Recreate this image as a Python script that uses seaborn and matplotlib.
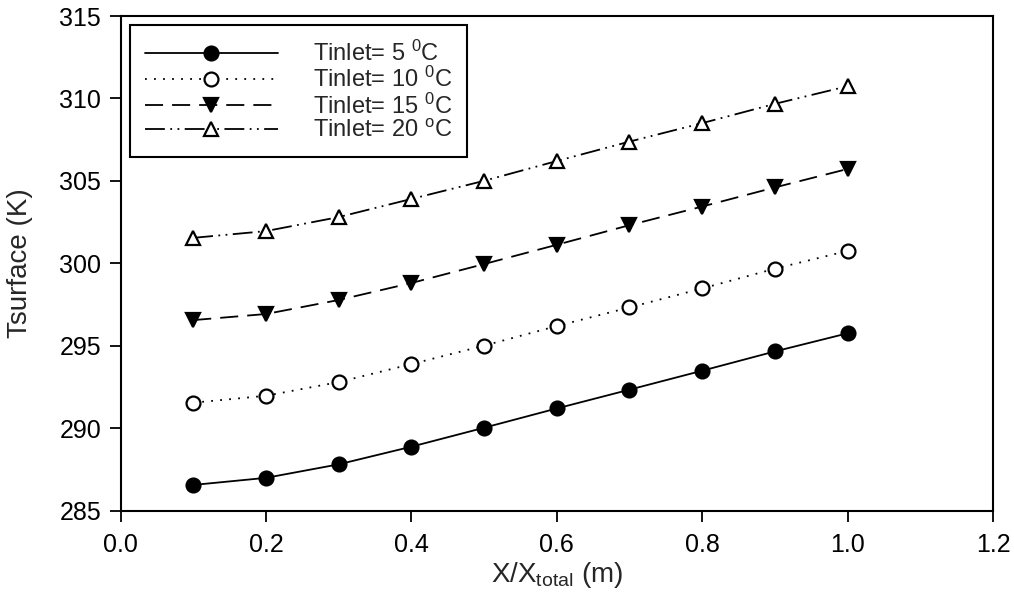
import numpy as np
import pandas as pd
import matplotlib
matplotlib.use("Agg")
import matplotlib.pyplot as plt
import seaborn as sns

# ---- data ----
x_ratio = [0.1, 0.2, 0.3, 0.4, 0.5, 0.6, 0.7, 0.8, 0.9, 1.0]
t_inlet_5 = [286.55, 286.98, 287.80, 288.87, 290.02, 291.19, 292.33, 293.48, 294.65, 295.75]
t_inlet_10 = [291.54, 291.96, 292.79, 293.88, 295.00, 296.19, 297.32, 298.47, 299.67, 300.75]
t_inlet_15 = [296.55, 296.92, 297.77, 298.80, 299.95, 301.12, 302.31, 303.44, 304.60, 305.72]
t_inlet_20 = [301.54, 301.95, 302.80, 303.90, 305.00, 306.20, 307.38, 308.50, 309.67, 310.74]
series_labels = [r"Tinlet= 5 $^{0}$C", r"Tinlet= 10 $^{0}$C",
                 r"Tinlet= 15 $^{0}$C", r"Tinlet= 20 $^{\mathrm{o}}$C"]
x_ticks = [0.0, 0.2, 0.4, 0.6, 0.8, 1.0, 1.2]
y_ticks = [285, 290, 295, 300, 305, 310, 315]

sns.set_theme(style="ticks")
plt.rcParams["font.family"] = ["Liberation Sans", "DejaVu Sans"]
plt.rcParams["mathtext.fontset"] = "custom"
plt.rcParams["mathtext.rm"] = "Liberation Sans"
plt.rcParams["mathtext.it"] = "Liberation Sans:italic"
plt.rcParams["mathtext.bf"] = "Liberation Sans:bold"

fig = plt.figure(figsize=(10.14, 5.93), dpi=100)
ax = fig.add_axes([120.5 / 1014, 1 - 510.5 / 593, (993 - 120.5) / 1014, (510.5 - 16) / 593])

styles = [
    dict(marker="o", markerfacecolor="black", linestyle="-"),
    dict(marker="o", markerfacecolor="white", linestyle=(0, (1, 4))),
    dict(marker="v", markerfacecolor="black", linestyle=(0, (10, 5))),
    dict(marker="^", markerfacecolor="white", linestyle=(0, (11, 3, 1, 3, 1, 3))),
]
all_series = [t_inlet_5, t_inlet_10, t_inlet_15, t_inlet_20]
for yvals, lab, st in zip(all_series, series_labels, styles):
    sns.lineplot(x=x_ratio, y=yvals, ax=ax, color="black", linewidth=1.3,
                 markersize=10, markeredgecolor="black", markeredgewidth=1.6,
                 label=lab, **st)

ax.set_xlim(0, 1.2)
ax.set_ylim(285, 315)
ax.set_xticks(x_ticks)
ax.set_xticklabels([f"{v:.1f}" for v in x_ticks])
ax.set_yticks(y_ticks)
ax.set_yticklabels([str(v) for v in y_ticks])
ax.tick_params(axis="both", direction="out", length=8, width=1.3, labelsize=18, colors="black")
ax.tick_params(axis="x", pad=8)
ax.tick_params(axis="y", pad=6)
for s in ax.spines.values():
    s.set_visible(True)
    s.set_linewidth(1.5)
    s.set_color("black")

ax.set_xlabel(r"X/X$_{\mathrm{total}}$ (m)", fontsize=20, labelpad=2)
ax.set_ylabel("Tsurface (K)", fontsize=20, labelpad=19)

leg = ax.legend(loc="upper left", bbox_to_anchor=(0, 1), borderaxespad=0.4,
                fontsize=17, handlelength=5.6, handletextpad=1.5, borderpad=0.65,
                labelspacing=0.05, fancybox=False, framealpha=1, edgecolor="black")
leg.get_frame().set_linewidth(1.5)

fig.savefig("out.png", dpi=100)
